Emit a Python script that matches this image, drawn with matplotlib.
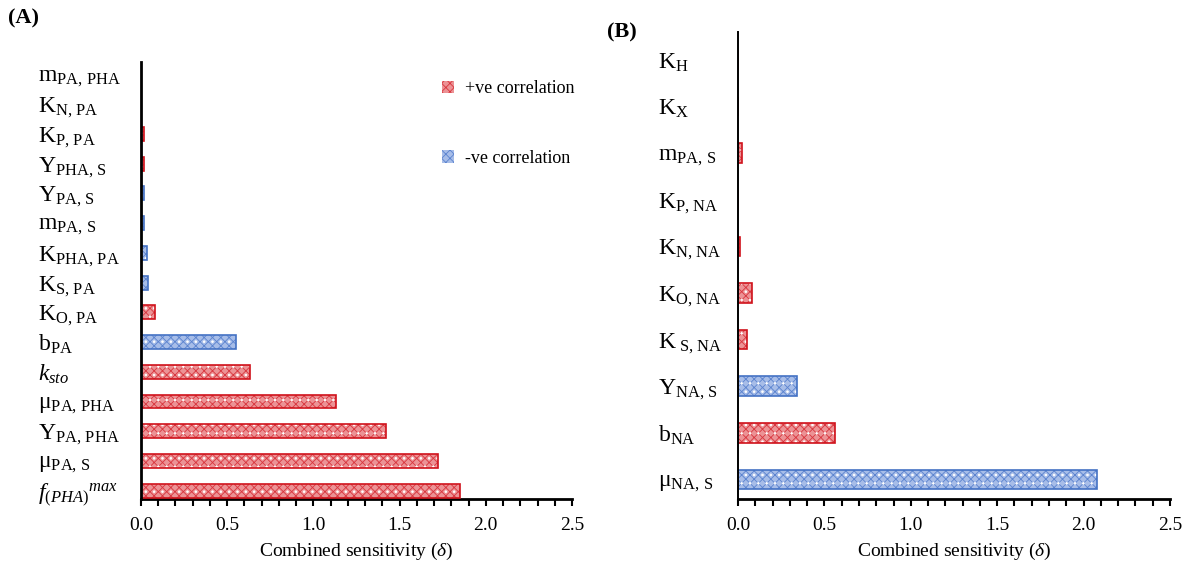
import matplotlib
matplotlib.use("Agg")
import matplotlib.pyplot as plt
from matplotlib.patches import Patch
from matplotlib.ticker import MultipleLocator

plt.rcParams['font.family'] = ['Liberation Serif', 'DejaVu Serif']
plt.rcParams['mathtext.fontset'] = 'custom'
plt.rcParams['mathtext.rm'] = 'Liberation Serif'
plt.rcParams['mathtext.it'] = 'Liberation Serif:italic'
plt.rcParams['mathtext.bf'] = 'Liberation Serif:bold'
plt.rcParams['hatch.linewidth'] = 0.6

# ---------------- Data ----------------
labels_A = [r'$f_{(PHA)}{}^{max}$', r'μ$_{\mathrm{PA,\!\ S}}$', r'Y$_{\mathrm{PA,\!\ PHA}}$',
            r'μ$_{\mathrm{PA,\!\ PHA}}$', r'$k_{sto}$', r'b$_{\mathrm{PA}}$',
            r'K$_{\mathrm{O,\!\ PA}}$', r'K$_{\mathrm{S,\!\ PA}}$', r'K$_{\mathrm{PHA,\!\ PA}}$',
            r'm$_{\mathrm{PA,\!\ S}}$', r'Y$_{\mathrm{PA,\!\ S}}$', r'Y$_{\mathrm{PHA,\!\ S}}$',
            r'K$_{\mathrm{P,\!\ PA}}$', r'K$_{\mathrm{N,\!\ PA}}$', r'm$_{\mathrm{PA,\!\ PHA}}$']
values_A = [1.85, 1.72, 1.42, 1.13, 0.63, 0.55, 0.08, 0.04, 0.035, 0.02, 0.015, 0.015, 0.015, 0.0, 0.0]
signs_A = ['+', '+', '+', '+', '+', '-', '+', '-', '-', '-', '-', '+', '+', '+', '+']

labels_B = [r'μ$_{\mathrm{NA,\!\ S}}$', r'b$_{\mathrm{NA}}$', r'Y$_{\mathrm{NA,\!\ S}}$',
            r'K$_{\mathrm{\ S,\!\ NA}}$', r'K$_{\mathrm{O,\!\ NA}}$', r'K$_{\mathrm{N,\!\ NA}}$',
            r'K$_{\mathrm{P,\!\ NA}}$', r'm$_{\mathrm{PA,\!\ S}}$', r'K$_{\mathrm{X}}$', r'K$_{\mathrm{H}}$']
values_B = [2.08, 0.56, 0.34, 0.05, 0.08, 0.013, 0.0, 0.025, 0.0, 0.0]
signs_B = ['-', '+', '-', '+', '+', '+', '+', '+', '+', '+']

xticks = [0.0, 0.5, 1.0, 1.5, 2.0, 2.5]
xlabel = r'Combined sensitivity ($\delta$)'
legend_labels = ['+ve correlation', '-ve correlation']

# ---------------- Styles ----------------
FACE = {'+': '#EC9295', '-': '#A7BDE8'}
GRID = {'+': '#D8363E', '-': '#5B83CF'}
EDGE = {'+': '#D0121B', '-': '#4472C4'}

fig = plt.figure(figsize=(11.92, 5.65), dpi=100)


def draw(ax, labels, values, signs, height, ylim, spine_w, label_px):
    y = list(range(len(labels)))
    faces = [FACE[s] for s in signs]
    grids = [GRID[s] for s in signs]
    edges = [EDGE[s] for s in signs]
    ax.barh(y, values, height=height, color=faces, edgecolor=grids, hatch='xxxx', linewidth=0, zorder=2)
    ax.barh(y, values, height=height, fill=False, edgecolor='white', hatch='..', linewidth=0, zorder=2.5)
    ax.barh(y, values, height=height, fill=False, edgecolor=edges, linewidth=1.2, zorder=3)
    ax.set_xlim(0, 2.5)
    ax.set_ylim(*ylim)
    ax.set_yticks(y)
    ax.set_yticklabels(labels, fontsize=17, ha='left')
    ax.tick_params(axis='y', length=0, pad=label_px * 72 / 100)
    ax.set_xticks(xticks)
    ax.set_xticklabels([f'{t:.1f}' for t in xticks], fontsize=14)
    ax.xaxis.set_minor_locator(MultipleLocator(0.1))
    ax.tick_params(axis='x', which='both', direction='out', length=5, width=1.5, pad=8)
    for s in ['top', 'right']:
        ax.spines[s].set_visible(False)
    ax.spines['left'].set_linewidth(spine_w)
    ax.spines['bottom'].set_linewidth(2)
    ax.spines['left'].set_zorder(4)
    ax.set_xlabel(xlabel, fontsize=14, labelpad=5)


axA = fig.add_axes([141 / 1192, 1 - 499 / 565, 431 / 1192, (499 - 62) / 565])
draw(axA, labels_A, values_A, signs_A, 0.47, (-0.28, 14.42), 2.0, 103)

axB = fig.add_axes([738 / 1192, 1 - 499 / 565, 432 / 1192, (499 - 32) / 565])
draw(axB, labels_B, values_B, signs_B, 0.42, (-0.42, 9.6), 1.4, 80)

handles = [Patch(facecolor=FACE['+'], edgecolor=GRID['+'], hatch='xxxx', linewidth=0),
           Patch(facecolor=FACE['-'], edgecolor=GRID['-'], hatch='xxxx', linewidth=0)]
axA.legend(handles, legend_labels, loc='upper left', bbox_to_anchor=(0.66, 0.995),
           frameon=False, fontsize=13, handlelength=0.7, handleheight=0.7,
           handletextpad=0.6, labelspacing=2.9)

fig.text(8 / 1192, 1 - 18 / 565, '(A)', fontsize=16, fontweight='bold', va='center', ha='left')
fig.text(607 / 1192, 1 - 32 / 565, '(B)', fontsize=16, fontweight='bold', va='center', ha='left')

fig.savefig('out.png', dpi=100)
